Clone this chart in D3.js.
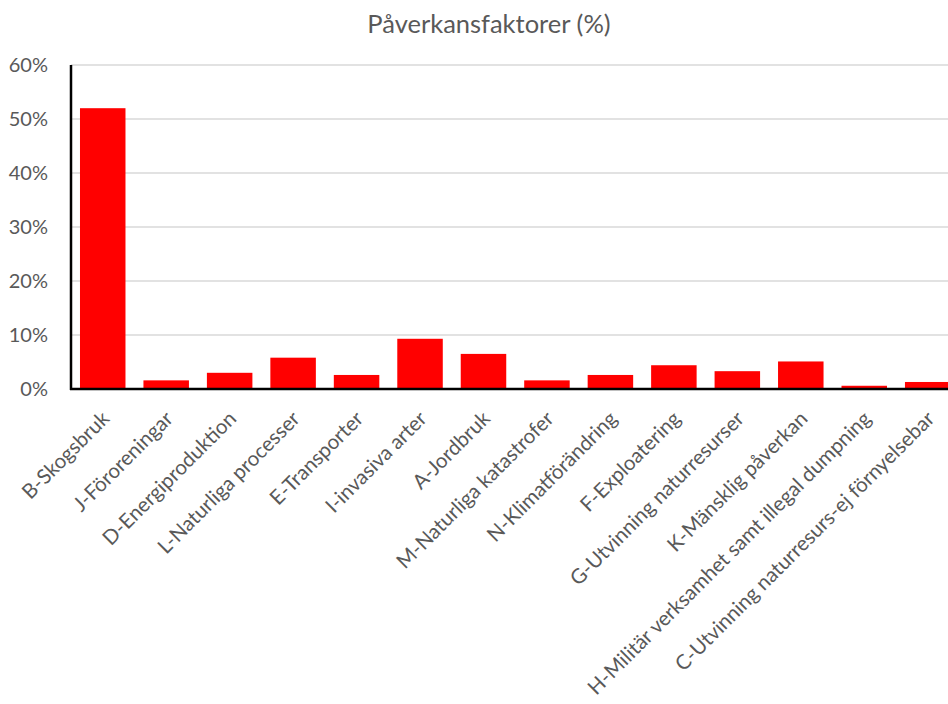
<!DOCTYPE html>
<html>
<head>
<meta charset="utf-8">
<script src="https://cdn.jsdelivr.net/npm/d3@7/dist/d3.min.js"></script>
<style>
  html, body { margin: 0; padding: 0; background: #fff; overflow: hidden; }
  svg { display: block; }
</style>
</head>
<body>
<svg id="chart" width="948" height="704"></svg>
<script>
// Påverkansfaktorer – share of each impact factor (%)
const categories = [
  "B-Skogsbruk", "J-Föroreningar", "D-Energiproduktion", "L-Naturliga processer",
  "E-Transporter", "I-invasiva arter", "A-Jordbruk", "M-Naturliga katastrofer",
  "N-Klimatförändring", "F-Exploatering", "G-Utvinning naturresurser",
  "K-Mänsklig påverkan", "H-Militär verksamhet samt illegal dumpning",
  "C-Utvinning naturresurs-ej förnyelsebar"
];
const values = [52.0, 1.6, 3.0, 5.8, 2.6, 9.3, 6.5, 1.6, 2.6, 4.4, 3.3, 5.1, 0.6, 1.3];
const yTicks = [0, 10, 20, 30, 40, 50, 60];
const title = "Påverkansfaktorer (%)";

const svg = d3.select("#chart");
const W = 948;
const fontFamily = "Lato, 'Open Sans', sans-serif";
const textColor = "#595959";

const x0 = 71, y0 = 389, yTop = 65;
const step = 63.46;

const x = d3.scaleBand()
  .domain(categories)
  .range([x0, x0 + step * categories.length])
  .paddingInner(0.283)
  .paddingOuter(0.1415);

const y = d3.scaleLinear().domain([0, 60]).range([y0, yTop]);

// Title
svg.append("text")
  .attr("x", 489).attr("y", 33)
  .attr("text-anchor", "middle")
  .attr("font-family", fontFamily)
  .attr("font-size", 25.5)
  .attr("fill", textColor)
  .text(title);

// Horizontal gridlines
svg.append("g")
  .selectAll("line")
  .data(yTicks.filter(d => d > 0))
  .join("line")
  .attr("x1", x0).attr("x2", W)
  .attr("y1", d => y(d)).attr("y2", d => y(d))
  .attr("stroke", "#d9d9d9")
  .attr("stroke-width", 1.5);

// Y axis labels
const yAxis = svg.append("g")
  .attr("transform", `translate(${x0},0)`)
  .call(d3.axisLeft(y).tickValues(yTicks).tickFormat(d => d + "%").tickSize(0).tickPadding(23));
yAxis.select(".domain").remove();
yAxis.selectAll("text")
  .attr("font-family", fontFamily)
  .attr("font-size", 20)
  .attr("fill", textColor);

// Bars
svg.append("g")
  .selectAll("rect")
  .data(categories.map((c, i) => ({ c, v: values[i] })))
  .join("rect")
  .attr("x", d => x(d.c))
  .attr("width", x.bandwidth())
  .attr("y", d => y(d.v))
  .attr("height", d => y0 - y(d.v))
  .attr("fill", "#ff0000");

// Axis lines
svg.append("line")
  .attr("x1", x0).attr("x2", x0)
  .attr("y1", yTop).attr("y2", y0 + 1)
  .attr("stroke", "#000").attr("stroke-width", 2.5);
svg.append("line")
  .attr("x1", x0 - 1).attr("x2", W)
  .attr("y1", y0).attr("y2", y0)
  .attr("stroke", "#000").attr("stroke-width", 2.5);

// Category labels, rotated
const xAxis = svg.append("g")
  .attr("transform", `translate(0,${y0})`)
  .call(d3.axisBottom(x).tickSize(0).tickPadding(0));
xAxis.select(".domain").remove();
xAxis.selectAll("text")
  .attr("font-family", fontFamily)
  .attr("font-size", 20.5)
  .attr("fill", textColor)
  .attr("text-anchor", "end")
  .attr("dy", 0)
  .attr("transform", "translate(8,31) rotate(-45)");
</script>
</body>
</html>
